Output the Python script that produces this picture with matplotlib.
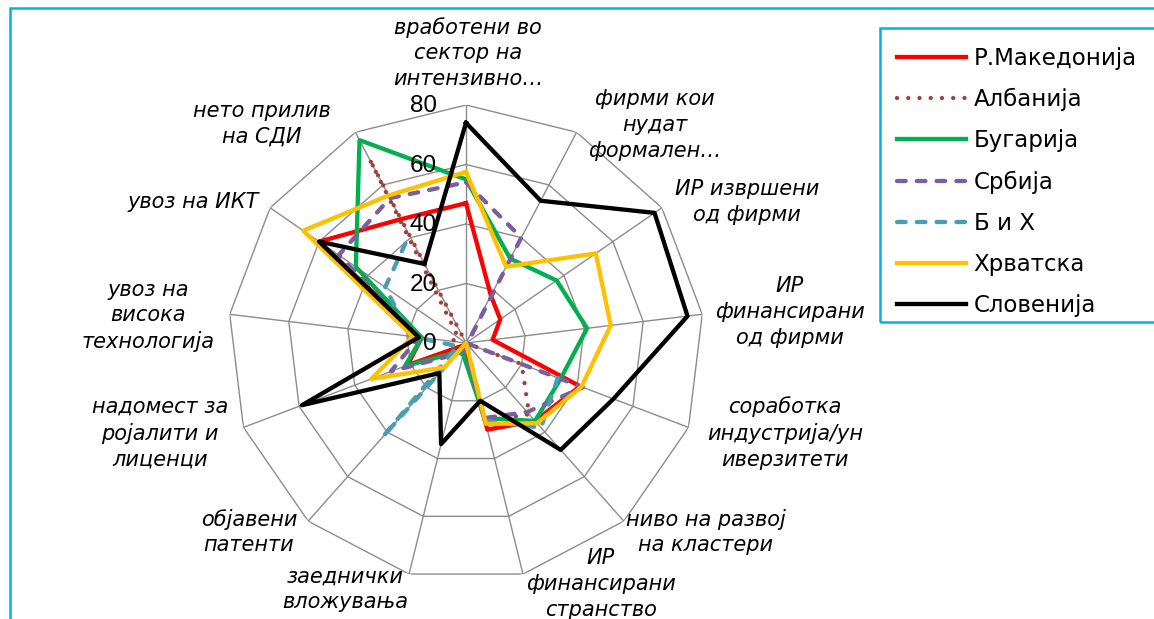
import numpy as np
import matplotlib
matplotlib.use("Agg")
import matplotlib.pyplot as plt
from matplotlib.patches import Rectangle

plt.rcParams["font.family"] = ["DejaVu Sans"]

# axes of the radar, clockwise from the top
categories = ["вработени во\nсектор на\nинтензивно…",
              "фирми кои\nнудат\nформален…",
              "ИР извршени\nод фирми",
              "ИР\nфинансирани\nод фирми",
              "соработка\nиндустрија/ун\nиверзитети",
              "ниво на развој\nна кластери",
              "ИР\nфинансирани\nстранство",
              "заеднички\nвложувања",
              "објавени\nпатенти",
              "надомест за\nројалити и\nлиценци",
              "увоз на\nвисока\nтехнологија",
              "увоз на ИКТ",
              "нето прилив\nна СДИ"]

countries = ["Р.Македонија", "Албанија", "Бугарија", "Србија", "Б и Х", "Хрватска", "Словенија"]

nan = np.nan
makedonija = [47, 18, 14, 9, 41, 35, 30, 2, 1, 21, 15, 60, 47]
albanija   = [0, 0, 0, 0, 20, 32, 27, 1, 4, 5, 5, 3, 70]
bugarija   = [55, 32, 37, 41, 34, 35, 26, 4, 4, 22, 15, 45, 77]
srbija     = [54, 40, 1, 0, 42, 31, 26, 2, 5, 27, 16, 52, 55]
bih        = [nan, nan, nan, nan, 33, 38, 27, 0, 42, 3, 19, 33, 41]   # no data for the first four
hrvatska   = [57.5, 29, 53, 49, 41.5, 36, 28, 0, 11, 34, 18, 66.5, 56]
slovenija  = [74, 54, 77, 75, 53, 48, 20, 35, 13.5, 59, 16, 60, 30]

r_ticks = [0, 20, 40, 60, 80]

series = [makedonija, albanija, bugarija, srbija, bih, hrvatska, slovenija]
styles = [
    dict(color="#FF0000", ls="-"),
    dict(color="#A0403C", ls=(0, (0.01, 2.6)), dash_capstyle="round"),
    dict(color="#00B050", ls="-"),
    dict(color="#7A5E9E", ls=(0, (2.0, 2.6)), dash_capstyle="round"),
    dict(color="#4A9DB5", ls=(0, (2.0, 2.6)), dash_capstyle="round"),
    dict(color="#FFC000", ls="-"),
    dict(color="#000000", ls="-"),
]

# label centres in pixels (layout only)
label_pos = [(468, 53), (655, 125), (747, 202), (790, 312), (785, 433),
             (706, 532), (601, 584), (345, 589), (249, 532), (160, 433),
             (148, 316), (193, 202), (262, 124)]

W, H = 1154, 619
fig = plt.figure(figsize=(W / 100, H / 100), dpi=100)
ax = fig.add_axes([228 / W, 38 / H, 476 / W, 476 / H], projection="polar")
ax.set_theta_zero_location("N")
ax.set_theta_direction(-1)

n = len(categories)
ang = np.linspace(0, 2 * np.pi, n, endpoint=False)
ang_c = np.append(ang, ang[0])

# polygon grid and spokes
for lev in r_ticks[1:]:
    ax.plot(ang_c, [lev] * (n + 1), color="#8C8C8C", lw=1.0, zorder=1)
for a in ang:
    ax.plot([a, a], [0, r_ticks[-1]], color="#8C8C8C", lw=1.0, zorder=1)

lines = []
for name, vals, st in zip(countries, series, styles):
    ln, = ax.plot(ang_c, vals + vals[:1], lw=3.1, label=name, zorder=3, **st)
    lines.append(ln)

ax.set_ylim(0, 80)
ax.grid(False)
ax.set_xticks([])
ax.set_yticks([])
ax.spines["polar"].set_visible(False)
ax.patch.set_alpha(0)

for v in r_ticks:
    ax.annotate(str(v), xy=(0, v), xytext=(-21, -1), textcoords="offset points",
                ha="right", va="center", fontsize=17.5, family="Liberation Sans",
                zorder=5)

for txt, (px, py) in zip(categories, label_pos):
    fig.text(px / W, 1 - py / H, txt, ha="center", va="center", fontsize=15,
             style="italic", linespacing=1.35)

leg = fig.legend(handles=lines, loc="upper left", bbox_to_anchor=(881 / W, 1 - 31 / H),
                 fontsize=16.5, frameon=False, borderpad=0.7,
                 handlelength=3.0, handletextpad=0.35, labelspacing=0.79,
                 borderaxespad=0)

# legend frame (runs past the right edge, as in the source)
fig.add_artist(Rectangle((880 / W, 1 - 322 / H), 1, (322 - 28) / H, transform=fig.transFigure,
                         fill=False, edgecolor="#00B0F0", lw=1.8))
# chart border
fig.add_artist(Rectangle((10 / W, -0.5), 2, 1.5 - 8 / H, transform=fig.transFigure,
                         fill=False, edgecolor="#00B0F0", lw=1.8))

fig.savefig("out.png", dpi=100)
